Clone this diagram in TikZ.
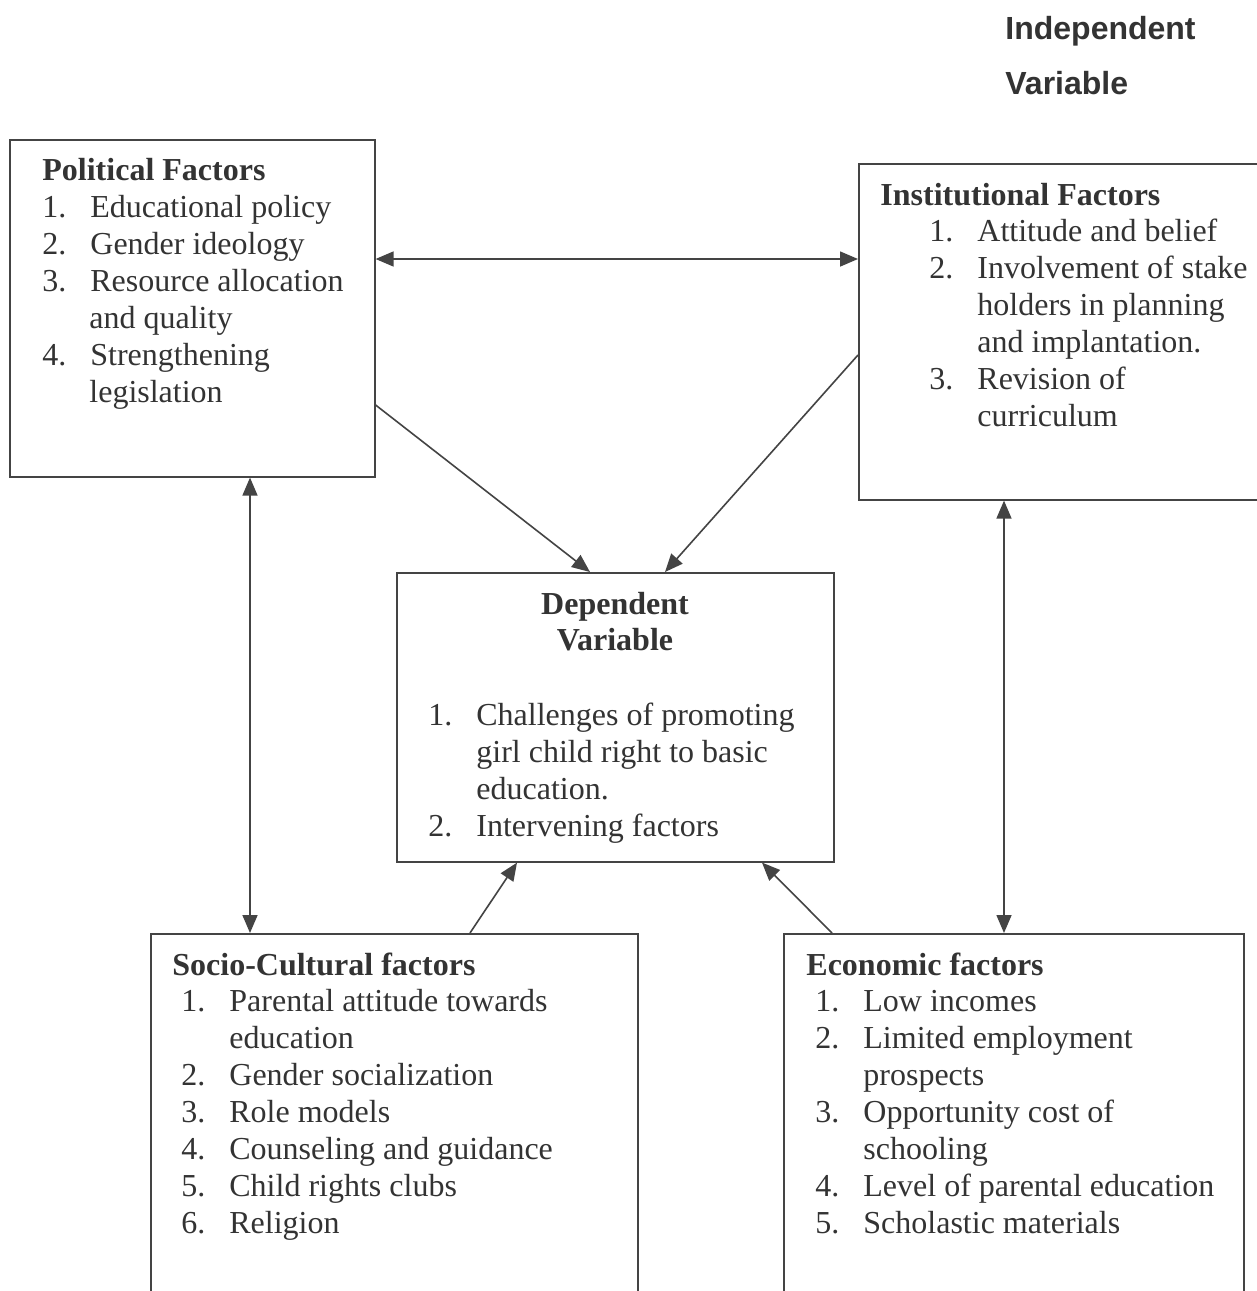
\documentclass[tikz,border=0pt]{standalone}
\usepackage{fontspec}
\setmainfont{Liberation Serif}
\newfontfamily\headfont{Liberation Sans}
\usetikzlibrary{arrows.meta,calc}
\definecolor{ink}{HTML}{333333}
\definecolor{edge}{HTML}{444444}
\newcommand{\itemno}[1]{\makebox[24pt][l]{#1}}
\tikzset{
  frame/.style={draw=edge,line width=0.8pt,rectangle,inner sep=0pt,anchor=north west},
  txt/.style={text=ink,inner sep=0pt,anchor=base west,font=\fontsize{16}{18.5}\selectfont},
  hd/.style={txt,font=\fontsize{16}{18.5}\selectfont\bfseries},
  link/.style={draw=edge,line width=0.8pt,-{Triangle[length=9pt,width=7.5pt]}},
  dlink/.style={draw=edge,line width=0.8pt,{Triangle[length=9pt,width=7.5pt]}-{Triangle[length=9pt,width=7.5pt]}}
}
\begin{document}
\begin{tikzpicture}[x=0.5pt,y=-0.5pt]
\useasboundingbox (0,0) rectangle (1257,1291);
\fill[white] (0,0) rectangle (1257,1291);

% title
\node[txt,font=\fontsize{16}{18.5}\selectfont\headfont\bfseries] (t1) at (1005,39) {Independent};
\node[txt,font=\fontsize{16}{18.5}\selectfont\headfont\bfseries] (t2) at (1005,94) {Variable};

% boxes
\node[frame,minimum width=182.5pt,minimum height=168.5pt] (pol) at (9,139) {};
\node[frame,minimum width=211pt,minimum height=168pt] (ins) at (858,163) {};
\node[frame,minimum width=218.5pt,minimum height=144.5pt] (dep) at (396,572) {};
\node[frame,minimum width=243.5pt,minimum height=193.5pt] (soc) at (150,933) {};
\node[frame,minimum width=230pt,minimum height=193.5pt] (eco) at (783,933) {};

% political
\node[hd] (p0) at (42,180) {Political Factors};
\node[txt] (p1) at (42,217) {\itemno{1.}Educational policy};
\node[txt] (p2) at (42,254) {\itemno{2.}Gender ideology};
\node[txt] (p3) at (42,291) {\itemno{3.}Resource allocation};
\node[txt] (p4) at (89,328) {and quality};
\node[txt] (p5) at (42,365) {\itemno{4.}Strengthening};
\node[txt] (p6) at (89,402) {legislation};

% institutional
\node[hd] (i0) at (880,205) {Institutional Factors};
\node[txt] (i1) at (929,241) {\itemno{1.}Attitude and belief};
\node[txt] (i2) at (929,278) {\itemno{2.}Involvement of stake};
\node[txt] (i3) at (977,315) {holders in planning};
\node[txt] (i4) at (977,352) {and implantation.};
\node[txt] (i5) at (929,389) {\itemno{3.}Revision of};
\node[txt] (i6) at (977,426) {curriculum};

% dependent
\node[hd,anchor=base] (d0) at (615,614) {Dependent};
\node[hd,anchor=base] (d00) at (615,650) {Variable};
\node[txt] (d1) at (428,725) {\itemno{1.}Challenges of promoting};
\node[txt] (d2) at (476,762) {girl child right to basic};
\node[txt] (d3) at (476,799) {education.};
\node[txt] (d4) at (428,836) {\itemno{2.}Intervening factors};

% socio-cultural
\node[hd] (s0) at (172,975) {Socio-Cultural factors};
\node[txt] (s1) at (181,1011) {\itemno{1.}Parental attitude towards};
\node[txt] (s2) at (229,1048) {education};
\node[txt] (s3) at (181,1085) {\itemno{2.}Gender socialization};
\node[txt] (s4) at (181,1122) {\itemno{3.}Role models};
\node[txt] (s5) at (181,1159) {\itemno{4.}Counseling and guidance};
\node[txt] (s6) at (181,1196) {\itemno{5.}Child rights clubs};
\node[txt] (s7) at (181,1233) {\itemno{6.}Religion};

% economic
\node[hd] (e0) at (806,975) {Economic factors};
\node[txt] (e1) at (815,1011) {\itemno{1.}Low incomes};
\node[txt] (e2) at (815,1048) {\itemno{2.}Limited employment};
\node[txt] (e3) at (863,1085) {prospects};
\node[txt] (e4) at (815,1122) {\itemno{3.}Opportunity cost of};
\node[txt] (e5) at (863,1159) {schooling};
\node[txt] (e6) at (815,1196) {\itemno{4.}Level of parental education};
\node[txt] (e7) at (815,1233) {\itemno{5.}Scholastic materials};

% connectors
\draw[dlink] ($(pol.north east)+(0,120)$) -- ($(ins.north west)+(0,96)$);
\draw[link] ($(pol.north east)+(0,266)$) -- ($(dep.north west)+(194,0)$);
\draw[link] ($(ins.north west)+(0,192)$) -- ($(dep.north west)+(269,0)$);
\draw[dlink] ($(pol.south west)+(241,0)$) -- ($(soc.north west)+(100,0)$);
\draw[dlink] ($(ins.south west)+(146,0)$) -- ($(eco.north west)+(221,0)$);
\draw[link] ($(soc.north west)+(320,0)$) -- ($(dep.south west)+(121,0)$);
\draw[link] ($(eco.north west)+(49,0)$) -- ($(dep.south west)+(366,0)$);
\end{tikzpicture}
\end{document}
